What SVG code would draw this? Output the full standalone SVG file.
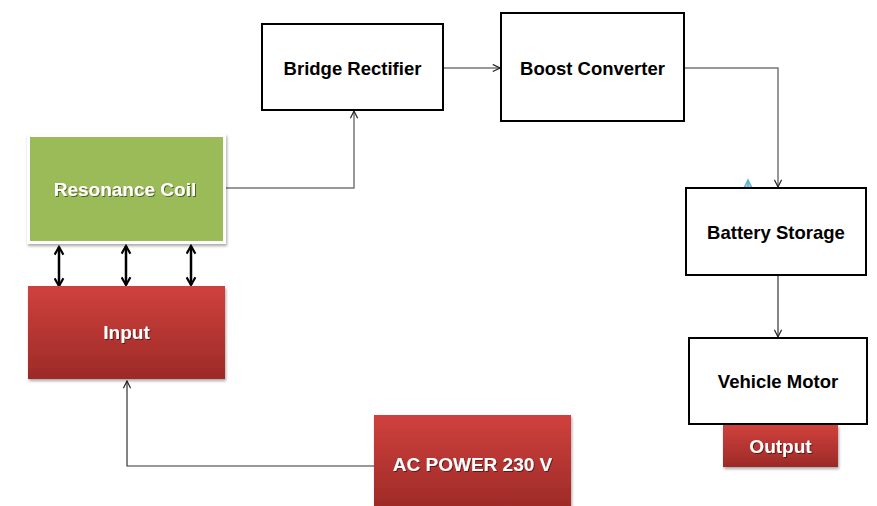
<svg xmlns="http://www.w3.org/2000/svg" width="877" height="506" viewBox="0 0 877 506">
<defs>
<linearGradient id="red" x1="0" y1="0" x2="0" y2="1">
<stop offset="0" stop-color="#d0413d"/>
<stop offset="1" stop-color="#9c2a27"/>
</linearGradient>
<filter id="sh" x="-10%" y="-10%" width="130%" height="130%">
<feDropShadow dx="1" dy="2" stdDeviation="1.5" flood-color="#000" flood-opacity="0.35"/>
</filter>
<filter id="tsh" x="-10%" y="-10%" width="120%" height="140%">
<feDropShadow dx="1" dy="1" stdDeviation="0.6" flood-color="#000" flood-opacity="0.5"/>
</filter>
<marker id="open" viewBox="0 0 10 10" refX="9" refY="5" markerWidth="9" markerHeight="9" markerUnits="userSpaceOnUse" orient="auto">
<path d="M1,1 L9,5 L1,9" fill="none" stroke="#222" stroke-width="1.3"/>
</marker>
<marker id="bold" viewBox="0 0 10 10" refX="8" refY="5" markerWidth="11" markerHeight="11" markerUnits="userSpaceOnUse" orient="auto-start-reverse">
<path d="M1,1 L8,5 L1,9" fill="none" stroke="#000" stroke-width="2"/>
</marker>
</defs>
<style>
.box{fill:#fff;stroke:#000;stroke-width:2}
.lbl{font-family:"Liberation Sans",Arial,sans-serif;font-weight:bold;font-size:18.5px;text-anchor:middle}
.wl{fill:#fff;font-size:19px}
.conn{fill:none;stroke:#333;stroke-width:1.2;marker-end:url(#open)}
.gconn{fill:none;stroke:#777;stroke-width:1.5;marker-end:url(#open)}
.dbl{stroke:#000;stroke-width:2.5;marker-start:url(#bold);marker-end:url(#bold)}
</style>
<rect width="877" height="506" fill="#fff"/>
<g id="connectors">
<path class="gconn" d="M225,188 H354 V111"/>
<path class="conn" d="M443,68 H500"/>
<path class="gconn" d="M684,68 H778 V187"/>
<path class="conn" d="M778,275 V337"/>
<path class="conn" d="M374,466 H127 V381"/>
<line class="dbl" x1="59" y1="247" x2="59" y2="286"/>
<line class="dbl" x1="126" y1="246" x2="126" y2="285"/>
<line class="dbl" x1="191" y1="246" x2="191" y2="285"/>
<path d="M744,188 L748,180 L752,188 M748,181 V188" fill="#a8d8ea" stroke="#5fb3d0" stroke-width="1.5"/>
</g>
<g id="bridge-rectifier">
<rect class="box" x="262" y="24" width="181" height="86"/>
<text class="lbl" x="352.5" y="75">Bridge Rectifier</text>
</g>
<g id="boost-converter">
<rect class="box" x="501" y="13" width="183" height="108"/>
<text class="lbl" x="592.5" y="75">Boost Converter</text>
</g>
<g id="resonance-coil">
<rect x="27" y="134" width="199" height="110" fill="#fff" filter="url(#sh)"/>
<rect x="30" y="137" width="193" height="104" fill="#9bbb59"/>
<text class="lbl wl" x="125" y="196" filter="url(#tsh)">Resonance Coil</text>
</g>
<g id="input">
<rect x="28" y="286" width="197" height="93" fill="url(#red)" filter="url(#sh)"/>
<text class="lbl wl" x="126.5" y="339" filter="url(#tsh)">Input</text>
</g>
<g id="battery-storage">
<rect class="box" x="686" y="188" width="180" height="87"/>
<text class="lbl" x="776" y="239">Battery Storage</text>
</g>
<g id="vehicle-motor">
<rect class="box" x="689" y="338" width="178" height="86"/>
<text class="lbl" x="778" y="388">Vehicle Motor</text>
</g>
<g id="output">
<rect x="723" y="425" width="115" height="42" fill="url(#red)" filter="url(#sh)"/>
<text class="lbl wl" x="780.5" y="453" filter="url(#tsh)">Output</text>
</g>
<g id="ac-power">
<rect x="374" y="415" width="197" height="95" fill="url(#red)" filter="url(#sh)"/>
<text class="lbl wl" x="472.5" y="471" filter="url(#tsh)">AC POWER 230 V</text>
</g>
</svg>
